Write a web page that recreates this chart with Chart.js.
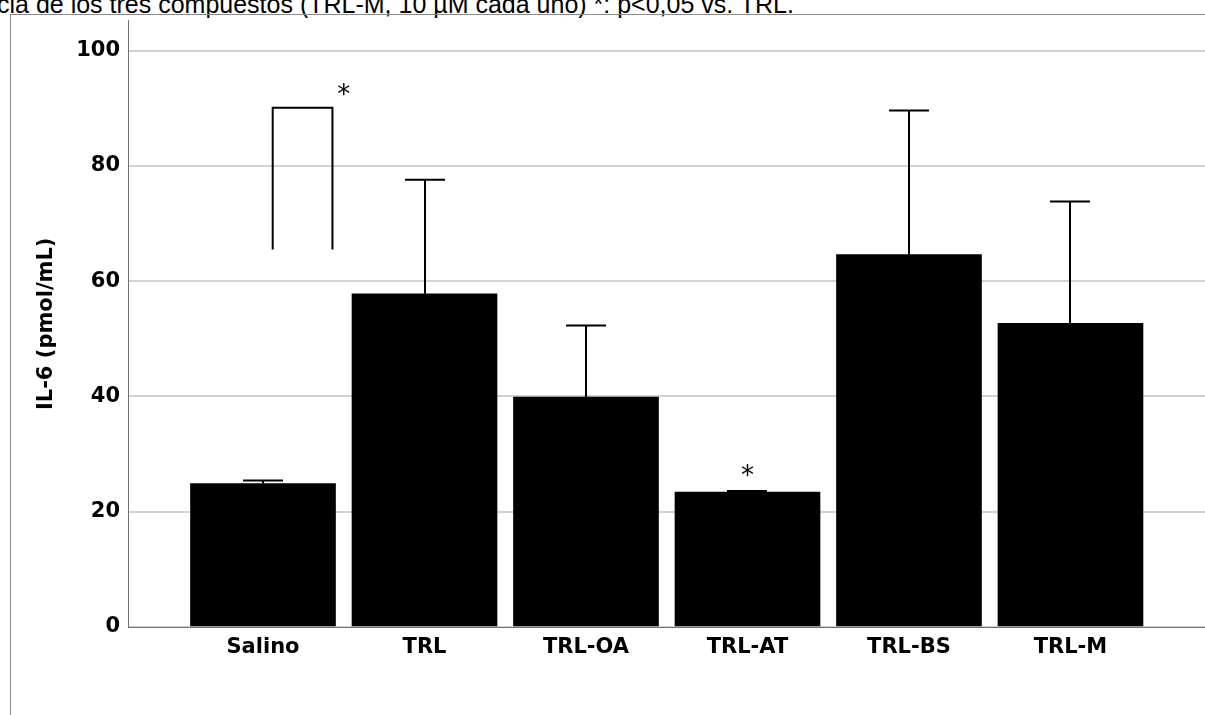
<!DOCTYPE html>
<html><head><meta charset="utf-8">
<script src="https://cdn.jsdelivr.net/npm/chart.js@4/dist/chart.umd.min.js"></script>
<style>
html,body{margin:0;padding:0;background:#fff;width:1205px;height:715px;overflow:hidden;position:relative;}
#caption{position:absolute;left:-3px;top:-8px;font:25px "Liberation Sans",Arial,sans-serif;line-height:25px;white-space:pre;color:#000;}
#frame{position:absolute;left:10px;top:14px;width:1200px;height:710px;border-left:1px solid #8a8a8a;border-top:1px solid #8a8a8a;box-sizing:border-box;}
#wrap{position:absolute;left:0;top:0;width:1205px;height:715px;}
</style></head><body>
<div id="caption">cia de los tres compuestos (TRL-M, 10 µM cada uno) *: p&lt;0,05 vs. TRL.</div>
<div id="frame"></div>
<div id="wrap"><canvas id="c" width="1205" height="715" style="width:1205px;height:715px"></canvas></div>
<script>
const categories = ['Salino', 'TRL', 'TRL-OA', 'TRL-AT', 'TRL-BS', 'TRL-M'];
const means = [24.9, 57.8, 39.9, 23.4, 64.6, 52.7];
const errUpper = [25.4, 77.6, 52.3, 23.6, 89.6, 73.8];
const yTicks = [0, 20, 40, 60, 80, 100];
const bracketX = [0.06, 0.06, 0.43, 0.43];
const bracketY = [65.5, 90.1, 90.1, 65.5];
const starX = [0.50, 3];
const starY = [92.7, 26.7];
const starText = ['*', '*'];

const extrasPlugin = {
  id: 'extras',
  afterDatasetsDraw(chart) {
    const {ctx, scales: {x, y}} = chart;
    ctx.save();
    ctx.strokeStyle = '#000';
    ctx.lineWidth = 2;
    means.forEach((m, i) => {
      const px = Math.round(x.getPixelForValue(i));
      const y0 = y.getPixelForValue(m);
      const y1 = y.getPixelForValue(errUpper[i]);
      ctx.beginPath();
      ctx.moveTo(px, y0); ctx.lineTo(px, y1);
      ctx.moveTo(px - 20, y1); ctx.lineTo(px + 20, y1);
      ctx.stroke();
    });
    ctx.fillStyle = '#000';
    ctx.font = '26px "DejaVu Sans", sans-serif';
    ctx.textAlign = 'center';
    ctx.textBaseline = 'middle';
    starText.forEach((t, i) => {
      ctx.fillText(t, x.getPixelForValue(starX[i]), y.getPixelForValue(starY[i]) + 4);
    });
    ctx.restore();
  }
};

const tickFont = {family: '"DejaVu Sans", Verdana, sans-serif', size: 21, weight: 'bold'};

new Chart(document.getElementById('c'), {
  data: {
    datasets: [
      {
        type: 'bar',
        data: categories.map((c, i) => ({x: i, y: means[i]})),
        backgroundColor: '#000',
        borderWidth: 0,
        barThickness: 145
      },
      {
        type: 'line',
        data: bracketX.map((v, i) => ({x: v, y: bracketY[i]})),
        borderColor: '#000',
        borderWidth: 2,
        pointRadius: 0,
        fill: false,
        tension: 0
      }
    ]
  },
  options: {
    responsive: false,
    animation: false,
    devicePixelRatio: 1,
    layout: {padding: {top: 20, right: 0, left: 0, bottom: 0}},
    plugins: {legend: {display: false}, tooltip: {enabled: false}},
    scales: {
      x: {
        type: 'linear',
        offset: false,
        min: -0.836,
        max: 5.833,
        afterBuildTicks: s => { s.ticks = categories.map((c, i) => ({value: i})); },
        afterFit: s => { s.height = 88; },
        ticks: {
          callback: v => categories[v] ?? '',
          autoSkip: false, maxRotation: 0, color: '#000', font: tickFont, padding: 8
        },
        grid: {display: false, drawTicks: false},
        border: {color: '#707070', width: 1}
      },
      y: {
        min: 0,
        max: 105.2,
        afterBuildTicks: s => { s.ticks = yTicks.map(v => ({value: v})); },
        afterFit: s => { s.width = 128; },
        ticks: {color: '#000', font: tickFont, padding: 8},
        grid: {color: '#d2d2d2', lineWidth: 2, drawTicks: false},
        border: {color: '#707070', width: 1},
        title: {display: true, text: 'IL-6 (pmol/mL)', color: '#000', font: tickFont, padding: {top: 34, bottom: 0}}
      }
    }
  },
  plugins: [extrasPlugin]
});
</script>
</body></html>
